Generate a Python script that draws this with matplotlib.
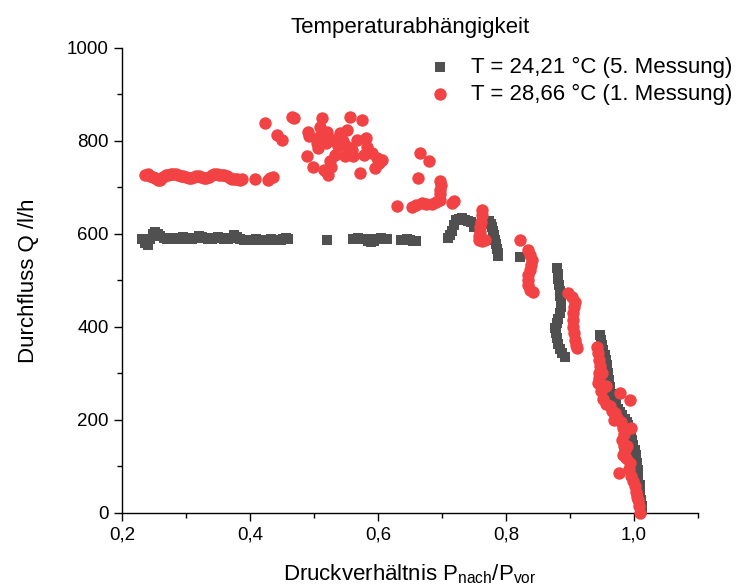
import matplotlib.pyplot as plt
from matplotlib.ticker import MultipleLocator, FixedLocator, FixedFormatter

plt.rcParams['font.family'] = ['Liberation Sans', 'DejaVu Sans']
plt.rcParams['mathtext.fontset'] = 'custom'
plt.rcParams['mathtext.rm'] = 'Liberation Sans'

# T = 24,21 °C (5. Messung) - Quadrate
x_5 = [0.232, 0.236, 0.240, 0.244, 0.248, 0.252, 0.256, 0.260, 0.265, 0.270,
       0.275, 0.280, 0.285, 0.290, 0.295, 0.300, 0.305, 0.310, 0.315, 0.320,
       0.325, 0.330, 0.335, 0.340, 0.345, 0.350, 0.355, 0.360, 0.365, 0.370,
       0.375, 0.380, 0.385, 0.390, 0.395, 0.400, 0.405, 0.410, 0.415, 0.420,
       0.428, 0.433, 0.438, 0.443, 0.448, 0.452, 0.456, 0.459,
       0.520,
       0.561, 0.565, 0.569, 0.573, 0.577, 0.581, 0.585, 0.589, 0.593, 0.597,
       0.601, 0.605, 0.609, 0.614, 0.636, 0.640, 0.645, 0.650, 0.655, 0.660,
       0.709, 0.712, 0.716, 0.719, 0.722, 0.727, 0.731, 0.736, 0.741, 0.746,
       0.750,
       0.773, 0.776, 0.778, 0.780, 0.782, 0.783, 0.785, 0.786, 0.787, 0.788,
       0.822,
       0.880, 0.881, 0.882, 0.883, 0.884, 0.885, 0.886, 0.886, 0.884, 0.881,
       0.879, 0.877, 0.878, 0.880, 0.882, 0.885, 0.888, 0.892,
       0.947, 0.949, 0.950, 0.952, 0.955, 0.957, 0.958, 0.960, 0.961, 0.963,
       0.966, 0.969, 0.972, 0.975, 0.978, 0.982, 0.986, 0.989, 0.991, 0.993,
       0.995, 0.997, 0.999, 1.001, 1.003, 1.004, 1.006, 1.007, 1.009, 1.010,
       1.011, 1.012, 1.012]
q_5 = [589, 580, 576, 590, 600, 604, 600, 595, 591, 589,
       591, 589, 590, 591, 593, 589, 591, 589, 591, 595,
       593, 591, 589, 590, 591, 593, 591, 589, 590, 591,
       597, 593, 589, 588, 587, 587, 588, 589, 588, 587,
       587, 589, 588, 587, 586, 589, 591, 590,
       587,
       589, 590, 591, 589, 590, 589, 585, 583, 585, 589,
       590, 591, 590, 589, 587, 588, 589, 586, 585, 585,
       591, 597, 606, 620, 630, 632, 634, 630, 628, 626,
       616,
       628, 622, 614, 606, 597, 588, 578, 568, 560, 553,
       551,
       527, 515, 503, 490, 478, 466, 454, 442, 430, 418,
       408, 398, 388, 376, 364, 352, 343, 336,
       383, 372, 361, 351, 340, 329, 318, 302, 286, 270,
       256, 245, 234, 224, 217, 210, 203, 196, 189, 178,
       168, 157, 146, 135, 125, 108, 92, 76, 60, 44,
       28, 16, 6]

# T = 28,66 °C (1. Messung) - Kreise
x_1 = [0.236, 0.240, 0.244, 0.248, 0.252, 0.256, 0.260, 0.264, 0.268, 0.272,
       0.276, 0.280, 0.284, 0.288, 0.292, 0.296, 0.300, 0.304, 0.308, 0.312,
       0.316, 0.320, 0.324, 0.328, 0.332, 0.336, 0.340, 0.344, 0.348, 0.352,
       0.356, 0.360, 0.364, 0.368, 0.372, 0.376, 0.380, 0.384, 0.388, 0.408,
       0.428, 0.432, 0.436,
       0.423, 0.442, 0.450, 0.465, 0.468,
       0.491, 0.492, 0.489, 0.499, 0.512, 0.510, 0.510, 0.507, 0.515, 0.522,
       0.525, 0.533, 0.530, 0.541, 0.551, 0.556, 0.553, 0.548, 0.561, 0.567,
       0.575, 0.572, 0.582, 0.583, 0.590, 0.598, 0.601, 0.595, 0.606, 0.518,
       0.520, 0.545, 0.538, 0.560, 0.578, 0.527, 0.505,
       0.629, 0.653, 0.660, 0.668, 0.675, 0.684, 0.690, 0.697, 0.697, 0.697,
       0.698, 0.697, 0.715, 0.718, 0.666, 0.679, 0.663,
       0.762, 0.762, 0.761, 0.760, 0.759, 0.758, 0.758, 0.763, 0.767,
       0.822,
       0.834, 0.837, 0.840, 0.839, 0.837, 0.835, 0.834, 0.835, 0.837, 0.842,
       0.897, 0.903, 0.908, 0.906, 0.905, 0.905, 0.905, 0.906, 0.908, 0.909,
       0.911,
       0.942, 0.944, 0.945, 0.947, 0.946, 0.945, 0.944, 0.948, 0.952, 0.957,
       0.962, 0.966, 0.970, 0.974, 0.968, 0.978, 0.994, 0.980, 0.983, 0.996,
       0.985, 0.981, 0.984, 0.989, 0.986, 0.983, 0.988, 0.994, 0.976, 0.992,
       0.996, 0.998, 1.002, 1.003, 1.005, 1.007, 1.008, 1.009, 0.957, 0.950]
q_1 = [727, 729, 725, 722, 720, 716, 716, 722, 727, 727,
       729, 729, 729, 727, 725, 725, 722, 720, 720, 722,
       725, 725, 722, 720, 720, 722, 727, 729, 729, 727,
       727, 727, 725, 720, 718, 718, 718, 716, 718, 718,
       716, 720, 722,
       839, 813, 802, 852, 849,
       820, 810, 767, 745, 849, 831, 810, 784, 738, 727,
       756, 770, 802, 817, 824, 852, 788, 767, 767, 802,
       845, 731, 806, 788, 774, 763, 752, 741, 759, 795,
       820, 800, 790, 780, 770, 745, 795,
       660, 659, 662, 667, 665, 665, 668, 673, 685, 695,
       705, 713, 667, 670, 774, 756, 720,
       652, 640, 626, 615, 604, 595, 587, 584, 587,
       587,
       566, 555, 544, 533, 523, 512, 501, 490, 480, 476,
       472, 465, 454, 442, 430, 415, 400, 386, 372, 362,
       355,
       358, 345, 330, 315, 300, 290, 279, 262, 246, 235,
       229, 220, 214, 205, 200, 257, 243, 195, 182, 182,
       170, 157, 145, 143, 135, 125, 118, 107, 85, 95,
       80, 68, 57, 45, 35, 28, 15, 0, 272, 300]

x_ticks = [0.2, 0.4, 0.6, 0.8, 1.0]
x_tick_labels = ['0,2', '0,4', '0,6', '0,8', '1,0']
y_ticks = [0, 200, 400, 600, 800, 1000]

fig = plt.figure(figsize=(7.56, 5.88), dpi=100)
ax = fig.add_axes([0.1614, 0.1276, 0.7619, 0.7908])

ax.scatter(x_5, q_5, marker='s', s=55, color='#505050', linewidths=0,
           label='T = 24,21 °C (5. Messung)', clip_on=False, zorder=3)
ax.scatter(x_1, q_1, marker='o', s=80, color='#F24244', linewidths=0,
           label='T = 28,66 °C (1. Messung)', clip_on=False, zorder=4)

ax.set_xlim(0.2, 1.1)
ax.set_ylim(0, 1000)
ax.xaxis.set_major_locator(FixedLocator(x_ticks))
ax.xaxis.set_major_formatter(FixedFormatter(x_tick_labels))
ax.xaxis.set_minor_locator(MultipleLocator(0.1))
ax.yaxis.set_major_locator(FixedLocator(y_ticks))
ax.yaxis.set_minor_locator(MultipleLocator(100))

for s in ['top', 'right']:
    ax.spines[s].set_visible(False)
for s in ['left', 'bottom']:
    ax.spines[s].set_linewidth(1.0)

ax.tick_params(which='major', direction='out', length=6, width=1, labelsize=13.5)
ax.tick_params(which='minor', direction='out', length=3.5, width=1)

ax.set_xlabel('Druckverhältnis P$_\\mathregular{nach}$/P$_\\mathregular{vor}$', fontsize=16, labelpad=14)
ax.set_ylabel('Durchfluss Q /l/h', fontsize=16, labelpad=20)
ax.set_title('Temperaturabhängigkeit', fontsize=16, pad=11)

ax.legend(loc='upper left', frameon=False, fontsize=16, handlelength=1.0,
          handletextpad=0.9, borderaxespad=0, bbox_to_anchor=(0.517, 1.0),
          labelspacing=0.25)

plt.savefig('out.png', dpi=100)
